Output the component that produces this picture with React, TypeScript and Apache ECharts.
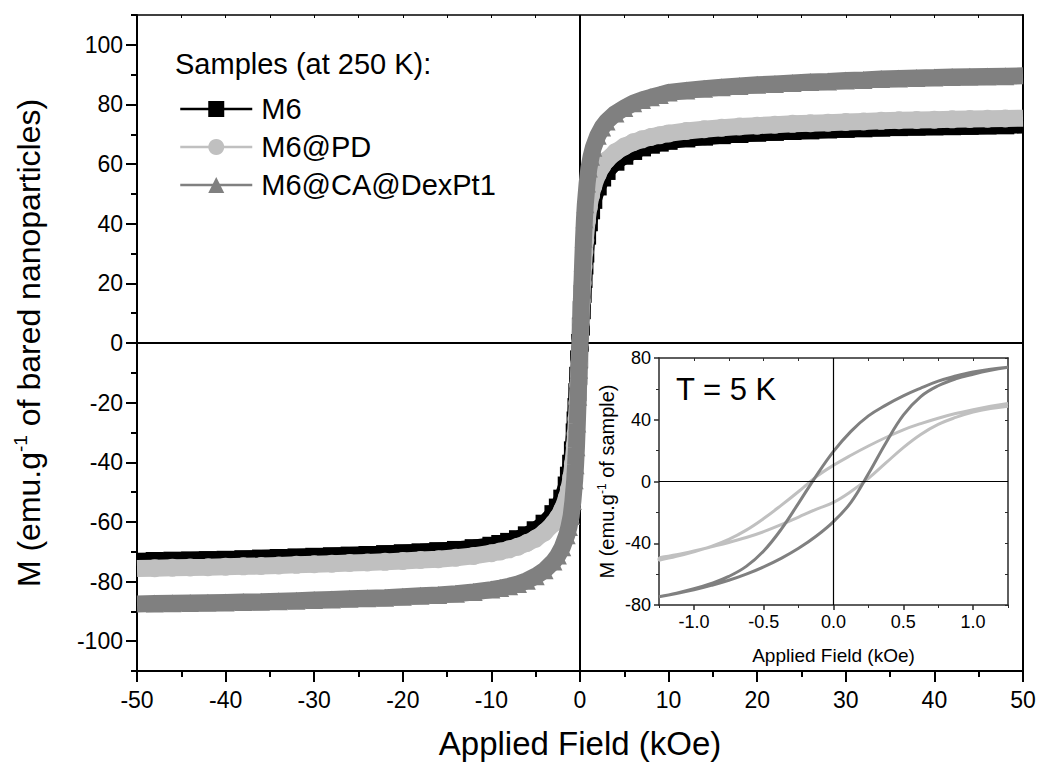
import React, { useEffect, useRef } from 'react';
import * as echarts from 'echarts';

const FONT = '"Liberation Sans", Arial, Helvetica, sans-serif';

// ---------- main plot (250 K) ----------
const fieldKOe = [
  -50, -48, -46, -44, -42, -40, -38, -36, -34, -32, -30, -28, -26, -24, -22, -20, -18, -16, -14, -12,
  -10, -9, -8, -7, -6, -5, -4,
  -3, -2.5, -2, -1.5, -1.25, -1, -0.8, -0.6, -0.5, -0.4, -0.3, -0.2, -0.1,
  0,
  0.1, 0.2, 0.3, 0.4, 0.5, 0.6, 0.8, 1, 1.25, 1.5, 2, 2.5, 3,
  4, 5, 6, 7, 8, 9, 10,
  12, 14, 16, 18, 20, 22, 24, 26, 28, 30, 32, 34, 36, 38, 40, 42, 44, 46, 48, 50,
];

const m6 = [
  -73.2, -73.1, -73.0, -72.9, -72.8, -72.7, -72.5, -72.3, -72.1, -71.9, -71.7, -71.5, -71.3, -71.1, -70.8, -70.5, -70.2, -69.8, -69.4, -68.8,
  -68.0, -67.4, -66.7, -65.8, -64.5, -62.8, -60.6,
  -57.4, -55.2, -52.2, -47.8, -44.5, -40.5, -36, -30, -26, -21.5, -16.5, -11, -5.5,
  0,
  5.5, 11, 16.5, 21.5, 26, 30, 36, 40.5, 44.5, 48, 52.5, 55.5, 57.7,
  60.8, 62.8, 64.4, 65.6, 66.5, 67.2, 67.8,
  68.6, 69.2, 69.7, 70.1, 70.5, 70.8, 71.1, 71.3, 71.6, 71.8, 72.0, 72.2, 72.4, 72.5, 72.6, 72.7, 72.8, 72.9, 73.0, 73.1,
];

const m6PD = [
  -75.6, -75.5, -75.4, -75.3, -75.2, -75.0, -74.9, -74.8, -74.6, -74.4, -74.2, -74.0, -73.8, -73.6, -73.4, -73.1, -72.8, -72.5, -72.0, -71.4,
  -70.5, -69.9, -69.2, -68.3, -67.1, -65.6, -63.5,
  -60.5, -58.5, -55.8, -51.8, -49, -45, -40.5, -34.5, -30.5, -25.5, -20, -14, -7,
  0,
  7, 14, 20, 25.5, 30.5, 34.5, 41, 45.5, 49.5, 52.5, 56.5, 59.3, 61.3,
  64, 65.9, 67.3, 68.3, 69.1, 69.7, 70.3,
  71.1, 71.7, 72.2, 72.6, 72.9, 73.2, 73.5, 73.7, 73.9, 74.1, 74.3, 74.5, 74.7, 74.8, 74.9, 75.0, 75.1, 75.2, 75.3, 75.4,
];

const m6CADexPt1 = [
  -87.5, -87.4, -87.3, -87.2, -87.1, -87.0, -86.9, -86.8, -86.6, -86.4, -86.2, -86.0, -85.8, -85.6, -85.4, -85.1, -84.8, -84.5, -84.1, -83.5,
  -82.7, -82.2, -81.6, -80.8, -79.7, -78.2, -76.2,
  -73.3, -71.3, -68.5, -64.5, -61.7, -58, -53, -46, -41, -35, -27, -18, -9,
  0,
  9, 18, 27, 35, 41.5, 46.5, 53.5, 58.5, 62.5, 65.5, 69.5, 72.3, 74.3,
  77.0, 78.8, 80.4, 81.5, 82.4, 83.2, 84.0,
  84.7, 85.3, 85.8, 86.2, 86.6, 86.9, 87.2, 87.5, 87.7, 88.0, 88.2, 88.5, 88.7, 88.9, 89.0, 89.2, 89.3, 89.4, 89.5, 89.6,
];

const sampleNames = ['M6', 'M6@PD', 'M6@CA@DexPt1'];

const xTickMin = -50;
const xTickMax = 50;
const yLabelTicks = [-100, -80, -60, -40, -20, 0, 20, 40, 60, 80, 100];
const yMinorTicks = [-110, -90, -70, -50, -30, -10, 10, 30, 50, 70, 90, 110];

// ---------- inset (5 K) ----------
const insetFieldDown = [1.25, 1.125, 1, 0.875, 0.75, 0.625, 0.5, 0.375, 0.25, 0.125, 0, -0.125, -0.25, -0.375, -0.5, -0.625, -0.75, -0.875, -1, -1.125, -1.25];
const insetFieldUp = [-1.25, -1.125, -1, -0.875, -0.75, -0.625, -0.5, -0.375, -0.25, -0.125, 0, 0.125, 0.25, 0.375, 0.5, 0.625, 0.75, 0.875, 1, 1.125, 1.25];

const insetCADown = [74, 72.8, 71, 68.3, 65, 60.5, 55.5, 49.5, 42.5, 32.5, 19.5, 3.5, -14, -31, -45, -55, -61.5, -66, -69.5, -72.3, -74.6];
const insetCAUp = [-74.6, -72.6, -70.2, -67.3, -64, -60, -55.3, -49.8, -43.3, -35.5, -26, -13.5, 5, 25, 43, 55, 62, 66.5, 69.5, 72, 74];
const insetPDDown = [50.6, 48.7, 46.5, 44, 41, 37.5, 33.5, 28.5, 23, 17, 10.5, 3, -6.5, -15.5, -24, -31.5, -37.5, -42, -45.5, -48.5, -51];
const insetPDUp = [-50, -47.5, -45, -42.3, -39.5, -36.3, -32.5, -28, -23, -18, -13.5, -6.5, 2, 12, 22, 30.5, 37, 41.5, 45, 47.3, 48.8];

const insetXLabelTicks = [-1, -0.5, 0, 0.5, 1];
const insetXMinorTicks = [-1.25, -0.75, -0.25, 0.25, 0.75, 1.25];
const insetXTopTicks = [-1, -0.75, -0.5, -0.25, 0, 0.25, 0.5, 0.75, 1];

const pairs = (xs: number[], ys: number[]) => xs.map((x, i) => [x, ys[i]]);

export default function App() {
  const ref = useRef<HTMLDivElement>(null);

  useEffect(() => {
    document.body.style.margin = '0';
    const chart = echarts.init(ref.current as HTMLDivElement, null, { renderer: 'svg' });

    const black = '#000000';
    const light = '#c0c0c0';
    const gray = '#808080';
    const frame = '#2a2a2a';

    const mainSeries = (name: string, ys: number[], color: string, symbol: string, z: number) => ({
      type: 'line',
      name,
      xAxisIndex: 0,
      yAxisIndex: 0,
      // end points sit on the frame: hide their markers so the band stops flush at the axes
      data: pairs(fieldKOe, ys).map((p, i, arr) =>
        i === 0 || i === arr.length - 1 ? { value: p, symbol: 'none' } : p
      ),
      symbol,
      symbolSize: 18,
      showSymbol: true,
      showAllSymbol: true,
      lineStyle: { color, width: 17 },
      itemStyle: { color, borderWidth: 0 },
      emphasis: { disabled: true },
      silent: true,
      z,
    });

    const insetSeries = (down: number[], up: number[], color: string) => ({
      type: 'line',
      xAxisIndex: 2,
      yAxisIndex: 3,
      data: pairs(insetFieldDown, down).concat(pairs(insetFieldUp, up)),
      symbol: 'none',
      smooth: 0.4,
      lineStyle: { color, width: 3 },
      emphasis: { disabled: true },
      silent: true,
      z: 3,
    });

    const tickStyle = { color: black, width: 2 };

    const option: any = {
      animation: false,
      backgroundColor: '#ffffff',
      textStyle: { fontFamily: FONT, color: black },
      grid: [
        { left: 137, top: 15, width: 886, height: 656, containLabel: false },
        { left: 659, top: 358, width: 349, height: 247, containLabel: false },
      ],
      legend: {
        orient: 'vertical',
        left: 174,
        top: 89,
        itemWidth: 72,
        itemHeight: 20,
        itemGap: 8,
        selectedMode: false,
        data: sampleNames,
        lineStyle: { width: 2.5 },
        textStyle: { fontSize: 29, fontFamily: FONT, color: black, lineHeight: 30, padding: [0, 0, 0, 4] },
      },
      xAxis: [
        {
          gridIndex: 0,
          type: 'value',
          position: 'bottom',
          min: xTickMin,
          max: xTickMax,
          interval: 10,
          name: 'Applied Field (kOe)',
          nameLocation: 'middle',
          nameGap: 56,
          nameTextStyle: { fontSize: 33, fontFamily: FONT, color: black },
          axisLine: { onZero: false, lineStyle: tickStyle },
          axisTick: { show: true, length: 11, lineStyle: tickStyle },
          minorTick: { show: true, splitNumber: 2, length: 6, lineStyle: tickStyle },
          axisLabel: { fontSize: 23, fontFamily: FONT, color: black, margin: 17 },
          splitLine: { show: false },
        },
        {
          gridIndex: 0,
          type: 'value',
          position: 'top',
          min: xTickMin,
          max: xTickMax,
          interval: 5,
          axisLine: { onZero: false, lineStyle: { color: black, width: 1.5 } },
          axisTick: { show: true, inside: true, length: 3, lineStyle: { color: black, width: 1 } },
          axisLabel: { show: false },
          splitLine: { show: false },
        },
        {
          gridIndex: 1,
          type: 'value',
          position: 'bottom',
          min: -1.25,
          max: 1.25,
          name: 'Applied Field (kOe)',
          nameLocation: 'middle',
          nameGap: 41,
          nameTextStyle: { fontSize: 19, fontFamily: FONT, color: black },
          axisLine: { onZero: false, lineStyle: { color: frame, width: 1.5 } },
          axisTick: { show: true, length: 5, customValues: insetXLabelTicks, lineStyle: { color: frame, width: 1.5 } },
          axisLabel: {
            fontSize: 18,
            fontFamily: FONT,
            color: black,
            margin: 8,
            customValues: insetXLabelTicks,
            formatter: (v: number) => v.toFixed(1),
          },
          splitLine: { show: false },
        },
        {
          gridIndex: 1,
          type: 'value',
          position: 'bottom',
          min: -1.25,
          max: 1.25,
          axisLine: { show: false, onZero: false },
          axisTick: { show: true, length: 3, customValues: insetXMinorTicks, lineStyle: { color: frame, width: 1 } },
          axisLabel: { show: false },
          splitLine: { show: false },
        },
        {
          gridIndex: 1,
          type: 'value',
          position: 'top',
          min: -1.25,
          max: 1.25,
          axisLine: { onZero: false, lineStyle: { color: frame, width: 1.5 } },
          axisTick: { show: true, inside: true, length: 3, customValues: insetXTopTicks, lineStyle: { color: frame, width: 1 } },
          axisLabel: { show: false },
          splitLine: { show: false },
        },
      ],
      yAxis: [
        {
          gridIndex: 0,
          type: 'value',
          position: 'left',
          min: -110,
          max: 110,
          name: '{n|M (emu.g}{s|-1}{n| of bared nanoparticles)}',
          nameLocation: 'middle',
          nameGap: 90,
          nameTextStyle: {
            fontFamily: FONT,
            color: black,
            rich: {
              n: { fontSize: 32, fontFamily: FONT, color: black, lineHeight: 36 },
              s: { fontSize: 19, fontFamily: FONT, color: black, verticalAlign: 'top', lineHeight: 20 },
            },
          },
          axisLine: { onZero: false, lineStyle: tickStyle },
          axisTick: { show: true, length: 11, customValues: yLabelTicks, lineStyle: tickStyle },
          axisLabel: { fontSize: 23, fontFamily: FONT, color: black, margin: 14, customValues: yLabelTicks },
          splitLine: { show: false },
        },
        {
          gridIndex: 0,
          type: 'value',
          position: 'left',
          min: -110,
          max: 110,
          axisLine: { show: false, onZero: false },
          axisTick: { show: true, length: 6, customValues: yMinorTicks, lineStyle: tickStyle },
          axisLabel: { show: false },
          splitLine: { show: false },
        },
        {
          gridIndex: 0,
          type: 'value',
          position: 'right',
          min: -110,
          max: 110,
          axisLine: { show: true, onZero: false, lineStyle: tickStyle },
          axisTick: { show: false },
          axisLabel: { show: false },
          splitLine: { show: false },
        },
        {
          gridIndex: 1,
          type: 'value',
          position: 'left',
          min: -80,
          max: 80,
          interval: 40,
          name: '{n|M (emu.g}{s|-1}{n| of sample)}',
          nameLocation: 'middle',
          nameGap: 41,
          nameTextStyle: {
            fontFamily: FONT,
            color: black,
            rich: {
              n: { fontSize: 20, fontFamily: FONT, color: black, lineHeight: 22 },
              s: { fontSize: 12, fontFamily: FONT, color: black, verticalAlign: 'top', lineHeight: 12 },
            },
          },
          axisLine: { onZero: false, lineStyle: { color: frame, width: 1.5 } },
          axisTick: { show: true, length: 5, lineStyle: { color: frame, width: 1.5 } },
          minorTick: { show: true, splitNumber: 2, length: 3, lineStyle: { color: frame, width: 1 } },
          axisLabel: { fontSize: 18, fontFamily: FONT, color: black, margin: 8 },
          splitLine: { show: false },
        },
        {
          gridIndex: 1,
          type: 'value',
          position: 'right',
          min: -80,
          max: 80,
          interval: 20,
          axisLine: { onZero: false, lineStyle: { color: frame, width: 1.5 } },
          axisTick: { show: true, inside: true, length: 3, lineStyle: { color: frame, width: 1 } },
          axisLabel: { show: false },
          splitLine: { show: false },
        },
      ],
      graphic: [
        {
          type: 'text',
          left: 175,
          top: 49,
          style: { text: 'Samples (at 250 K):', fontSize: 29, fontFamily: FONT, fill: black },
          silent: true,
        },
        {
          type: 'text',
          left: 676,
          top: 374,
          style: { text: 'T = 5 K', fontSize: 31, fontFamily: FONT, fill: black },
          silent: true,
        },
      ],
      series: [
        {
          type: 'line',
          xAxisIndex: 0,
          yAxisIndex: 0,
          data: [[0, 0]],
          symbol: 'none',
          lineStyle: { width: 0 },
          silent: true,
          z: 1,
          markLine: {
            silent: true,
            symbol: 'none',
            label: { show: false },
            emphasis: { disabled: true },
            lineStyle: { color: black, width: 2, type: 'solid' },
            data: [{ xAxis: 0 }, { yAxis: 0 }],
          },
        },
        mainSeries(sampleNames[0], m6, black, 'rect', 3),
        mainSeries(sampleNames[1], m6PD, light, 'circle', 4),
        mainSeries(sampleNames[2], m6CADexPt1, gray, 'triangle', 5),
        {
          type: 'line',
          xAxisIndex: 2,
          yAxisIndex: 3,
          data: [[0, 0]],
          symbol: 'none',
          lineStyle: { width: 0 },
          silent: true,
          z: 1,
          markLine: {
            silent: true,
            symbol: 'none',
            label: { show: false },
            emphasis: { disabled: true },
            lineStyle: { color: black, width: 1.2, type: 'solid' },
            data: [{ xAxis: 0 }, { yAxis: 0 }],
          },
        },
        insetSeries(insetPDDown, insetPDUp, light),
        insetSeries(insetCADown, insetCAUp, gray),
      ],
    };

    chart.setOption(option);
    return () => chart.dispose();
  }, []);

  return <div ref={ref} style={{ position: 'fixed', left: 0, top: 0, width: 1040, height: 771 }} />;
}
